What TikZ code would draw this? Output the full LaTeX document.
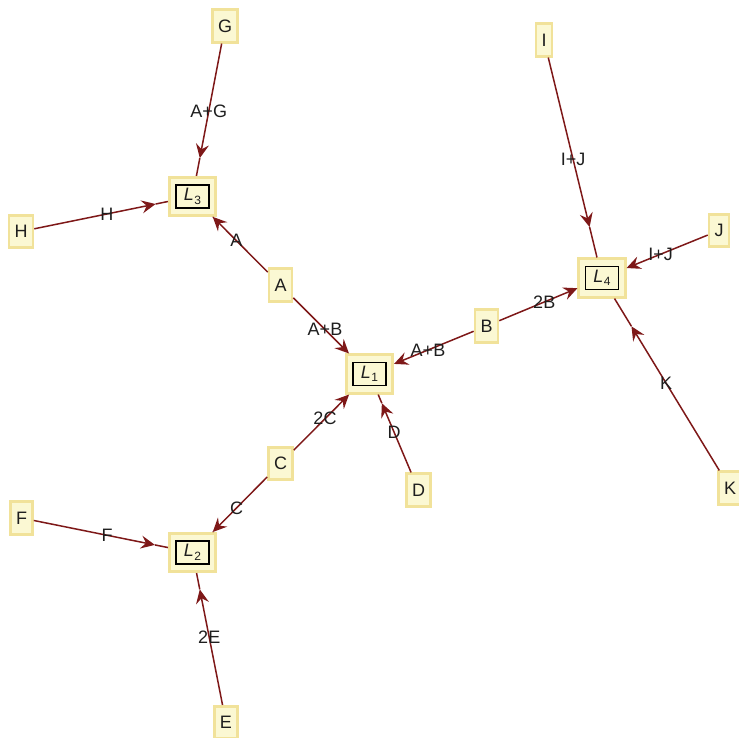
\documentclass[tikz,border=0pt]{standalone}
\usepackage{fontspec}
\setmainfont{Liberation Sans}
\usetikzlibrary{arrows.meta,calc}
\definecolor{boxfill}{RGB}{251,248,211}
\definecolor{boxborder}{RGB}{241,226,154}
\definecolor{edgecol}{RGB}{126,24,24}
\definecolor{txt}{RGB}{30,30,30}
\newcommand{\Lsub}[1]{{\itshape L}\kern0.5pt\raisebox{-3.5pt}{\fontsize{12}{13}\selectfont #1}}
\newcommand{\midedge}[4]{%
  \coordinate (m#1#2) at ($(#1.center)!#4!(#2.center)$);
  \draw[edge,tip] (#1) -- (m#1#2);
  \draw[edge] (m#1#2) -- (#2);
  \path (#1.center) -- node[lab]{#3} (#2.center);}
\newcommand{\bdedge}[3]{%
  \draw[edge,tip] (#1) -- (#2);
  \path (#1.center) -- node[lab]{#3} (#2.center);}
\begin{document}
\begin{tikzpicture}[x=1pt,y=-1pt,
  font=\fontsize{18}{21}\selectfont,
  letter/.style={draw=boxborder,line width=2.6pt,fill=boxfill,inner xsep=5.5pt,inner ysep=0pt,minimum height=32.5pt,text=txt},
  lout/.style={draw=boxborder,line width=2.6pt,fill=boxfill,minimum width=46.5pt,minimum height=38.5pt,inner sep=0pt},
  linner/.style={draw=black,line width=1.1pt,minimum width=33pt,minimum height=23pt,inner sep=0pt,text=txt},
  edge/.style={draw=edgecol,line width=1.5pt},
  tip/.style={-{Stealth[length=14pt,width=13pt,inset=5pt]}},
  lab/.style={text=txt,inner sep=0pt}]
\useasboundingbox (0,0) rectangle (739,738);
% L nodes
\node[lout] (L1) at (369.5,374) {};
\node[lout] (L2) at (192.5,552.5) {};
\node[lout] (L3) at (192.5,196.5) {};
\node[lout] (L4) at (602,278) {};
\node[linner] (L1i) at (L1.center) {\Lsub{1}};
\node[linner] (L2i) at (L2.center) {\Lsub{2}};
\node[linner] (L3i) at (L3.center) {\Lsub{3}};
\node[linner] (L4i) at (L4.center) {\Lsub{4}};
% letter nodes
\node[letter] (A) at (280.5,285) {A};
\node[letter] (B) at (486.5,326) {B};
\node[letter] (C) at (280.5,463.5) {C};
\node[letter] (D) at (418.5,490) {D};
\node[letter] (E) at (226,722.5) {E};
\node[letter] (F) at (21.5,518) {F};
\node[letter] (G) at (225,26) {G};
\node[letter] (H) at (21,231.5) {H};
\node[letter] (I) at (544,40) {I};
\node[letter] (J) at (719,230.5) {J};
\node[letter] (K) at (730,488) {K};
% edges
\midedge{G}{L3}{A+G}{0.775}
\midedge{H}{L3}{H}{0.785}
\midedge{A}{L3}{A}{0.77}
\bdedge{A}{L1}{A+B}
\bdedge{B}{L1}{A+B}
\bdedge{B}{L4}{2B}
\midedge{I}{L4}{I+J}{0.786}
\bdedge{J}{L4}{I+J}
\midedge{K}{L4}{K}{0.77}
\midedge{D}{L1}{D}{0.748}
\bdedge{C}{L1}{2C}
\midedge{C}{L2}{C}{0.77}
\midedge{F}{L2}{F}{0.78}
\midedge{E}{L2}{2E}{0.783}
\end{tikzpicture}
\end{document}
